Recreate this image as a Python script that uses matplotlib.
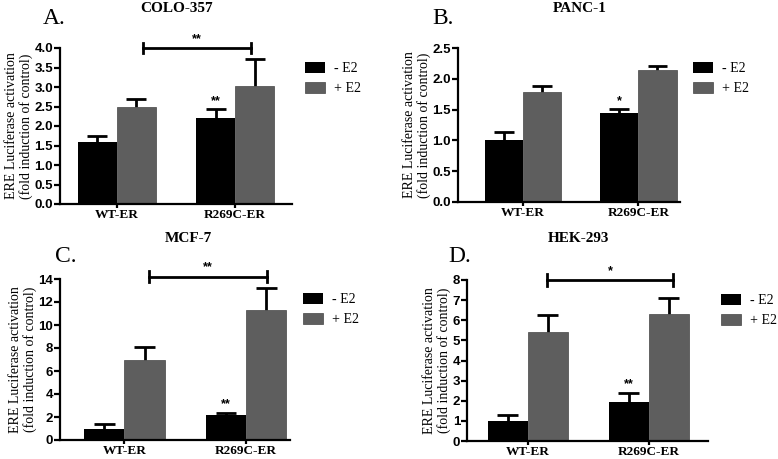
import matplotlib.pyplot as plt
import numpy as np

groups = ['WT-ER', 'R269C-ER']
series = ['- E2', '+ E2']

# panel A: COLO-357
colo_minus = [1.58, 2.21]
colo_minus_err = [0.17, 0.22]
colo_plus = [2.48, 3.03]
colo_plus_err = [0.22, 0.70]

# panel B: PANC-1
panc_minus = [1.01, 1.45]
panc_minus_err = [0.12, 0.06]
panc_plus = [1.79, 2.15]
panc_plus_err = [0.10, 0.06]

# panel C: MCF-7
mcf_minus = [1.0, 2.15]
mcf_minus_err = [0.35, 0.2]
mcf_plus = [7.0, 11.3]
mcf_plus_err = [1.05, 1.9]

# panel D: HEK-293
hek_minus = [1.0, 1.92]
hek_minus_err = [0.28, 0.48]
hek_plus = [5.42, 6.3]
hek_plus_err = [0.85, 0.8]

serif = 'Liberation Serif'
sans = 'Liberation Sans'
black = '#000000'
gray = '#5e5e5e'
w = 0.33
cap = 0.085

fig = plt.figure(figsize=(7.78, 4.59), dpi=100)


def upper_err(ax, xs, ys, errs):
    xs = np.asarray(xs)
    tops = np.asarray(ys) + np.asarray(errs)
    ax.vlines(xs, ys, tops, color='black', lw=2, zorder=1)
    ax.hlines(tops, xs - cap, xs + cap, color='black', lw=2, zorder=1)


def panel(rect, letter, title, minus, minus_err, plus, plus_err, ymax, ystep,
          xlim, stars_minus, bracket=None, bracket_star='', title_xy=None, letter_xy=None):
    ax = fig.add_axes(rect)
    x = np.arange(len(groups))
    ax.bar(x - w / 2, minus, w, color=black, zorder=2, label=series[0])
    ax.bar(x + w / 2, plus, w, color=gray, edgecolor='#444444', linewidth=0.5,
           zorder=2, label=series[1])
    upper_err(ax, x - w / 2, minus, minus_err)
    upper_err(ax, x + w / 2, plus, plus_err)
    ax.set_ylim(0, ymax)
    ax.set_xlim(*xlim)
    ticks = np.arange(0, ymax + ystep / 2, ystep)
    ax.set_yticks(ticks)
    if ystep < 1:
        ax.set_yticklabels(['%.1f' % v for v in ticks])
    ax.set_xticks(x)
    ax.set_xticklabels(groups, fontfamily=serif, fontweight='bold', fontsize=9.5)
    for lab in ax.get_yticklabels():
        lab.set_fontfamily(sans)
        lab.set_fontweight('bold')
        lab.set_fontsize(9.5)
    ax.spines['top'].set_visible(False)
    ax.spines['right'].set_visible(False)
    ax.spines['left'].set_linewidth(1.6)
    ax.spines['bottom'].set_linewidth(1.6)
    ax.tick_params(axis='y', width=1.6, length=4, pad=1)
    ax.tick_params(axis='x', width=1.6, length=3, pad=0.5)
    ax.set_ylabel('ERE Luciferase activation\n(fold induction of control)',
                  fontfamily=serif, fontsize=10, labelpad=1, linespacing=1.1)
    # star over R269C -E2 bar
    if stars_minus:
        ax.text(1 - w / 2, minus[1] + minus_err[1] + ymax * 0.015, stars_minus,
                ha='center', va='bottom', fontfamily=sans, fontweight='bold', fontsize=9)
    if bracket is not None:
        x0, x1, yb = bracket
        ax.plot([x0, x1], [yb, yb], color='black', lw=2, clip_on=False)
        for xe in (x0, x1):
            ax.plot([xe, xe], [yb - ymax * 0.035, yb + ymax * 0.035], color='black',
                    lw=2, clip_on=False)
        ax.text((x0 + x1) / 2, yb + ymax * 0.02, bracket_star, ha='center', va='bottom',
                fontfamily=sans, fontweight='bold', fontsize=9)
    ax.legend(loc='upper left', bbox_to_anchor=(1.0, 0.99), frameon=False,
              prop={'family': serif, 'size': 10}, handlelength=1.5, handleheight=0.8,
              labelspacing=0.5, handletextpad=0.6)
    fig.text(title_xy[0], title_xy[1], title, ha='center', va='center',
             fontfamily=serif, fontweight='bold', fontsize=11)
    fig.text(letter_xy[0], letter_xy[1], letter, ha='left', va='center',
             fontfamily=serif, fontsize=17)
    return ax


W, H = 778, 459

panel([60 / W, (H - 204) / H, 232 / W, 156 / H], 'A.', 'COLO-357',
      colo_minus, colo_minus_err, colo_plus, colo_plus_err, 4.0, 0.5,
      (-0.48, 1.48), '**', bracket=(0.22, 1.13, 4.0), bracket_star='**',
      title_xy=(177 / W, 1 - 8 / H), letter_xy=(43 / W, 1 - 19 / H))

panel([458 / W, (H - 202) / H, 222 / W, 154 / H], 'B.', 'PANC-1',
      panc_minus, panc_minus_err, panc_plus, panc_plus_err, 2.5, 0.5,
      (-0.56, 1.36), '*',
      title_xy=(580 / W, 1 - 8 / H), letter_xy=(432 / W, 1 - 19 / H))

panel([60 / W, (H - 440) / H, 230 / W, 161 / H], 'C.', 'MCF-7',
      mcf_minus, mcf_minus_err, mcf_plus, mcf_plus_err, 14, 2,
      (-0.53, 1.36), '**', bracket=(0.2, 1.17, 14.2), bracket_star='**',
      title_xy=(188 / W, 1 - 239 / H), letter_xy=(55 / W, 1 - 256 / H))

panel([467 / W, (H - 441) / H, 241 / W, 161 / H], 'D.', 'HEK-293',
      hek_minus, hek_minus_err, hek_plus, hek_plus_err, 8, 1,
      (-0.5, 1.49), '**', bracket=(0.16, 1.2, 8.0), bracket_star='*',
      title_xy=(578 / W, 1 - 239 / H), letter_xy=(448 / W, 1 - 257 / H))

plt.savefig('out.png', dpi=100)
